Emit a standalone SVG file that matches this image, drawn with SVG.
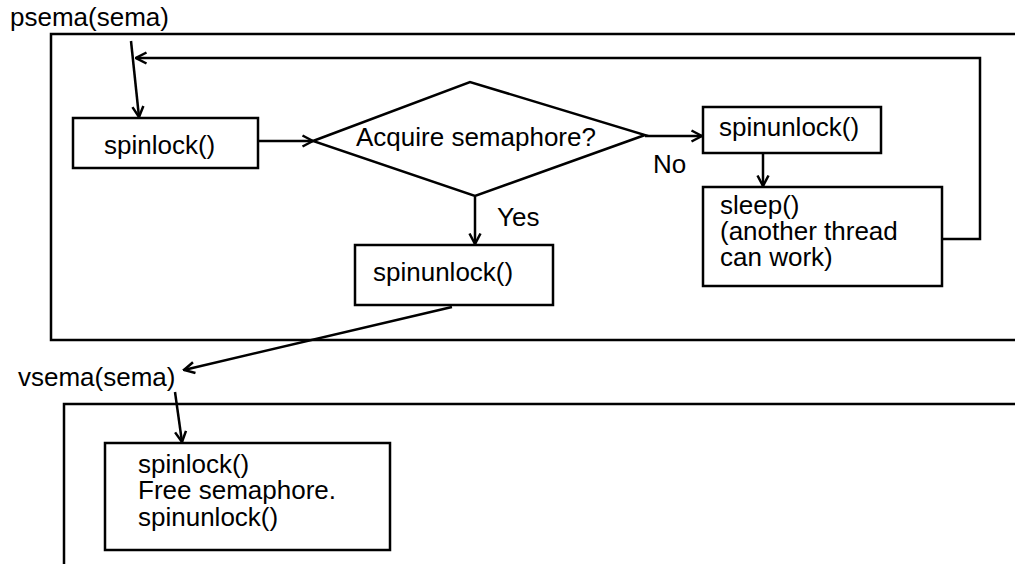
<svg xmlns="http://www.w3.org/2000/svg" width="1015" height="564" viewBox="0 0 1015 564">
<style>
text{font-family:"Liberation Sans",Arial,sans-serif;font-size:26px;fill:#000}
.frame{fill:none;stroke:#000;stroke-width:2.5}
.box{fill:#fff;stroke:#000;stroke-width:2.5}
.conn{fill:none;stroke:#000;stroke-width:2.5}
</style>
<defs>
<marker id="arr" viewBox="0 0 14 14" refX="12.5" refY="7" markerWidth="14" markerHeight="14" markerUnits="userSpaceOnUse" orient="auto">
<path d="M2,1.5 L12.5,7 L2,12.5" fill="none" stroke="#000" stroke-width="2.5"/>
</marker>
</defs>
<rect width="1015" height="564" fill="#fff"/>
<g id="psema-frame">
<rect class="frame" x="51" y="34" width="1000" height="306"/>
<text x="10" y="26">psema(sema)</text>
</g>
<g id="vsema-frame">
<rect class="frame" x="64" y="404" width="1000" height="200"/>
<text x="18" y="386">vsema(sema)</text>
</g>
<g id="spinlock">
<rect class="box" x="73" y="118" width="185" height="50"/>
<text x="104" y="154">spinlock()</text>
</g>
<g id="acquire">
<polygon class="box" points="313,141 470,82 645,135 475,196"/>
<text x="356" y="146">Acquire semaphore?</text>
</g>
<g id="spinunlock-no">
<rect class="box" x="703" y="107" width="178" height="46"/>
<text x="719" y="136">spinunlock()</text>
</g>
<g id="sleep">
<rect class="box" x="703" y="187" width="239" height="99"/>
<text x="720" y="214">sleep()<tspan x="720" dy="26">(another thread</tspan><tspan x="720" dy="26">can work)</tspan></text>
</g>
<g id="spinunlock-yes">
<rect class="box" x="355" y="245" width="198" height="60"/>
<text x="373" y="281">spinunlock()</text>
</g>
<g id="free">
<rect class="box" x="105" y="443" width="285" height="107"/>
<text x="138" y="473">spinlock()<tspan x="138" dy="26">Free semaphore.</tspan><tspan x="138" dy="27">spinunlock()</tspan></text>
</g>
<g id="connectors">
<line class="conn" x1="131" y1="41" x2="139" y2="117" marker-end="url(#arr)"/>
<line class="conn" x1="258" y1="141" x2="313" y2="141" marker-end="url(#arr)"/>
<line class="conn" x1="645" y1="136" x2="702" y2="136" marker-end="url(#arr)"/>
<line class="conn" x1="763" y1="153" x2="763" y2="186" marker-end="url(#arr)"/>
<polyline class="conn" points="942,239 980,239 980,58 136,58" marker-end="url(#arr)"/>
<line class="conn" x1="475" y1="197" x2="475" y2="244" marker-end="url(#arr)"/>
<line class="conn" x1="452" y1="307" x2="184" y2="370" marker-end="url(#arr)"/>
<line class="conn" x1="175" y1="392" x2="182" y2="442" marker-end="url(#arr)"/>
<text x="653" y="173">No</text>
<text x="497" y="226">Yes</text>
</g>
</svg>
